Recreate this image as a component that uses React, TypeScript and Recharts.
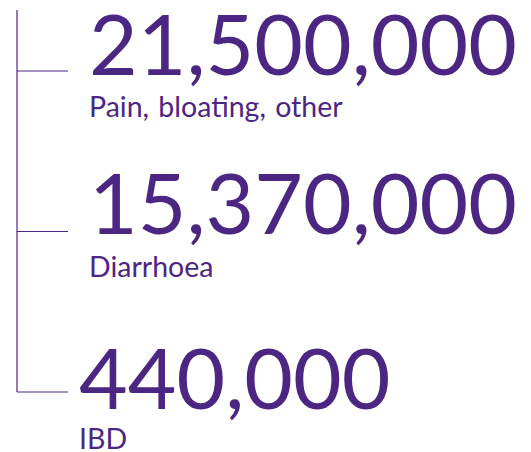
import { LineChart, Line, XAxis, YAxis } from "recharts";

const categories = ["Pain, bloating, other", "Diarrhoea", "IBD"];
const patients = [21500000, 15370000, 440000];

const chartData = categories.map((name, i) => ({ name, value: patients[i] }));

const PURPLE = "#4B2683";
const FONT = "Lato, 'Open Sans', sans-serif";

// the last block sits a little lower and further left than the others
const tickLayout = [
  { dx: 21, dy: 4, labelDy: 46 },
  { dx: 21, dy: 2, labelDy: 45 },
  { dx: 11, dy: 17, labelDy: 57 }
];

function BigTick(props: any) {
  const { x, y, payload, index } = props;
  const i = categories.indexOf(payload.value);
  const shift = tickLayout[index] ?? tickLayout[0];
  return (
    <g>
      <text
        x={x + shift.dx}
        y={y + shift.dy}
        fill={PURPLE}
        fontFamily={FONT}
        fontSize={84}
        textAnchor="start"
      >
        {patients[i].toLocaleString("en-US")}
      </text>
      <text
        x={x + shift.dx}
        y={y + shift.labelDy}
        fill={PURPLE}
        fontFamily={FONT}
        fontSize={28.5}
        wordSpacing={2}
        textAnchor="start"
      >
        {payload.value}
      </text>
    </g>
  );
}

export default function App() {
  return (
    <div style={{ position: "fixed", top: 0, left: 0, width: 531, height: 452, background: "#fff" }}>
      <LineChart
        layout="vertical"
        width={531}
        height={452}
        data={chartData}
        margin={{ top: 10, right: 0, bottom: 60, left: 17 }}
      >
        <XAxis type="number" hide domain={[0, "dataMax"]} />
        <YAxis
          type="category"
          dataKey="name"
          mirror
          width={60}
          interval={0}
          padding={{ top: 61, bottom: 0 }}
          axisLine={{ stroke: PURPLE, strokeWidth: 1.2 }}
          tickLine={{ stroke: PURPLE, strokeWidth: 1.2 }}
          tickSize={51}
          tickMargin={0}
          tick={<BigTick />}
        />
        <Line
          dataKey="value"
          stroke="none"
          dot={false}
          activeDot={false}
          isAnimationActive={false}
        />
      </LineChart>
    </div>
  );
}
